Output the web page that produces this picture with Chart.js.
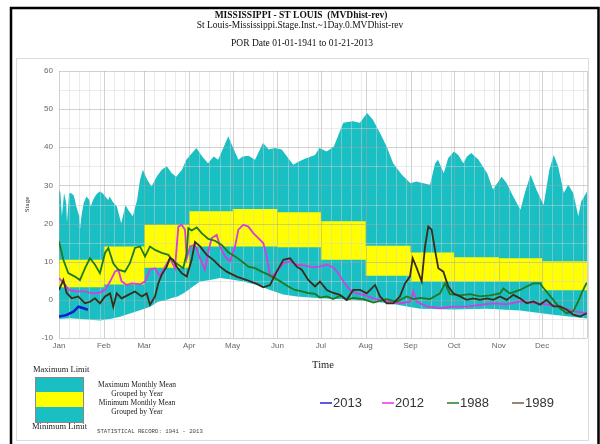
<!DOCTYPE html>
<html>
<head>
<meta charset="utf-8">
<script src="https://cdn.jsdelivr.net/npm/chart.js@4/dist/chart.umd.min.js"></script>
<style>
html,body{margin:0;padding:0;background:#fff;}
#c{display:block;}
</style>
</head>
<body>
<canvas id="c" width="600" height="444"></canvas>
<script>
// ---------- text ----------
const titleMain = 'MISSISSIPPI - ST LOUIS  (MVDhist-rev)';
const titleSub = 'St Louis-Mississippi.Stage.Inst.~1Day.0.MVDhist-rev';
const titlePor = 'POR Date 01-01-1941 to 01-21-2013';
const xAxisTitle = 'Time';
const yAxisTitle = 'Stage';
const statRecord = 'STATISTICAL RECORD: 1941 - 2013';

// ---------- categories / ticks ----------
const monthNames = ['Jan','Feb','Mar','Apr','May','Jun','Jul','Aug','Sep','Oct','Nov','Dec'];
const monthStartDays = [0,31,59,90,120,151,181,212,243,273,304,334];
const yearEndDay = 365;
const weekOffsets = [7,14,21,28];
const yMin = -10, yMax = 60, yStep = 5, yLabelEvery = 10;

// ---------- monthly mean band (yellow) ----------
const maxMonthlyMean = [10.5,14.0,19.7,23.2,23.8,23.0,20.6,14.2,12.4,11.2,10.9,10.1];
const minMonthlyMean = [3.3,4.0,8.4,14.0,14.0,13.8,10.5,6.3,4.8,4.8,4.8,2.5];

// ---------- limits band (teal) ----------
const maxLimitDays = [0,1,2,3.5,5,5.5,7,8,10,11,12,14,14.5,15.5,17,19,21,22,23.5,25.5,28,30,32,34,35,37,40,43,46,48,51,54,56,58,61,64,67.5,71,74.5,78,81,85,88,92,95,99,103,107,110,114,117,120,124,127,131,135.5,141,145,149,154,158.5,162,165.5,170,177,180,185,190,196.5,203,208,213,217,222,226.5,231,237,243,247,252,256.5,260,262,266,269,273,276,279.5,282,285,290,296,300,306,309.5,314,319,322,326,330,335,339,342,345,349,352,355.5,359,361,365];
const maxLimitStage = [28.9,28,21.9,28,25.3,20.2,28,28,27.5,26.2,24.5,21.9,18.4,21.9,25.3,27.1,26.2,24.5,26.2,27.5,28.4,28,27.1,26.2,27.1,25.8,24.5,20.1,24.8,23.5,21.9,26.2,31.5,34.1,31.5,29.7,32.3,34.1,35,33.2,32.3,34.1,36.7,38.5,39.8,37.6,35.8,37.6,36.7,40.2,42.9,40.2,36.7,37.6,37.8,36.7,41.1,39.4,39.8,39.4,37.1,35.4,36.2,37,38,39.8,38.9,40.2,46.4,46.8,46.4,49,47.2,43.7,40.2,35.8,32.8,30.6,31,30.6,30.2,35.8,36.7,33.2,37.1,38.9,38,35.8,37.6,38.5,36.7,33.2,28.9,32.3,30.6,27.1,23.6,28,32.8,28.9,24.9,34.1,38,35,28,30.2,28,21.9,25.8,28.4];
const minLimitDays = [0,7.6,14.5,21.4,28.3,35.3,42.2,49,56,63,68.4,73,78,82,87,92.6,97.5,104.4,111.3,120.3,127.2,136.9,145.9,154.9,164.4,180.4,203,226.7,249.6,272.4,296,318.7,341.5,365];
const minLimitStage = [-5,-4.8,-5,-5.2,-5.4,-5,-4.4,-3.6,-2.7,-1.8,-0.5,-0.2,0.5,0.9,1.9,3.5,4.8,5.2,5.7,5.3,4.8,3.9,2.6,1.4,0.9,0.4,0,-0.8,-2.3,-2.5,-2.3,-2.8,-3.9,-4.9];

// ---------- yearly series ----------
const seriesNames = ['2013','2012','1988','1989'];
const days2013 = [0,5,10,13.5,17,20];
const stage2013 = [-4.4,-4,-3.1,-1.8,-2.2,-2.6];
const days2012 = [0,3.5,7,11,18,22.6,27.2,31.8,35.3,38.7,41,43.3,46.8,50.3,56,59.5,62.9,66.4,69.8,73.3,76.7,80.2,82.5,84.8,87.1,88.3,90.6,94,97.5,100.9,103.2,105.6,109,111.3,114.8,118.2,121.7,124,127.4,130.9,134.3,137.8,141.2,143.6,145.9,148.2,151.6,155.1,159.7,164.3,170.1,175.6,180.4,185.1,189.6,193.1,196.5,201.2,205.8,210.4,217.3,226.5,235.7,242.6,244.9,247.3,254.2,263.4,272.6,281.8,291,300.2,309.5,318.7,327.9,337.1,346.3,355.5,364.8];
const stage2012 = [5.7,4.3,2.6,2.2,2.2,1.7,1.8,2.6,4.8,7.4,7.9,4.8,3.9,4.3,4.1,4.8,7.9,8.3,6.1,8.7,10.9,8.3,19.2,19.7,18.4,10.9,14,14.4,10.9,7.9,12.7,16.2,17,14,11.4,10.1,14,18.4,19.7,19.2,17.5,16.2,14.9,11.4,6.1,6.5,7.9,9.6,10.1,9.2,9,8.5,8.7,9.2,8.5,7,4.8,2.6,1.7,1.3,0.4,-0.4,-0.9,-0.5,2.2,-0.5,-1.7,-2.2,-1.8,-1.8,-1.3,-0.9,-1.2,-0.4,-0.8,-1.2,-1.7,-3,-3.5];
const days1988 = [0,3,6.4,11,14.5,18,21.4,24.9,28.3,31.8,34.1,37.5,41,45.6,49,52.5,56,59.5,62.9,66.4,71,75.6,79,82.5,85.9,88.3,89.4,91.7,95.2,98.6,103.2,107.8,112.5,117,121.7,126.3,130.9,135.5,140.1,144.7,149.3,154,158.5,163.1,167.8,172.3,177,180.4,185.1,189.6,194.3,198.9,203.4,210.4,217.3,226.5,233.5,240.4,244.9,249.6,256.5,263.4,266.8,270.3,277.2,284.1,291,298,304.9,307.2,311.8,318.7,323.3,327.9,332.5,336,341.7,346.3,351,355.5,358.8,361.6,364.8];
const stage1988 = [15.3,10.5,7,6.1,5.2,8.3,10.9,9.2,7,12.3,13.6,9.6,7.9,7.4,9.6,13.6,14,11.4,14,13.1,12.3,11.8,10.1,9.2,8.3,12.3,18.8,18.2,19,17.5,16,15.5,14.4,12.5,11.4,10.1,8.7,8.3,7.4,6.6,5.7,4.6,3.5,2.6,2.2,1.8,1.6,0.6,0.9,0.2,1.1,0,0.5,0.2,-0.7,0.2,-0.5,0.9,0.2,0.5,0.2,1.7,4.3,1.5,1.2,1.5,0.9,1.2,1.7,3,1.7,2.6,3.5,4.3,4.3,2.6,0,-2.2,-3.5,-3,-0.5,2,4.5];
const days1989 = [0,3,5.3,8.8,13.3,18,21.4,24.9,28.3,31.8,35.3,37.5,39.9,43.3,47.9,52.5,57.2,60.6,62.9,66.4,68.6,71,74.5,76.7,79,81.4,84.8,88.3,91.7,94,97.5,102.1,106.7,111.3,115.9,122.8,129.8,136.7,141.2,145.9,150.5,155.1,159.7,164.3,167.8,172.3,177,180.4,185.1,189.6,194.3,198.9,203.4,208.1,212.7,218.5,221.9,226.5,231.1,235.7,239.2,242.6,244.5,247.3,250.7,253,255.3,257.6,259.9,262.2,265.7,269.1,272.6,277.2,281.8,286.4,291,295.7,300.2,304.9,309.5,314.1,318.7,323.3,327.9,332.5,337.1,341.7,346.3,351,355.5,360.2,364.8];
const stage1989 = [2.6,5.2,1.8,0.4,0.9,-0.9,-0.5,0.4,-0.9,0.9,1.7,-1.8,1.7,0.4,1.3,2.2,0.9,1.7,-1.3,0.9,4.3,6.6,8.7,11,10.5,8.7,7,6.1,10.5,15.2,14,11.8,10.5,8.7,7.4,6.1,5.2,4.2,3.3,3.9,7.4,10.5,10.9,8.7,7.9,5.2,3.5,4.8,2.6,1.8,1.3,0,2.6,2.6,1.7,3.9,0.9,-0.9,-0.9,0.9,4.3,6.1,10.9,8.3,4.8,13.9,19.2,18.4,13.1,8.3,7.4,3.5,1.7,0.9,0,0.4,0,0.4,0,0.9,0,1.3,0.4,-0.9,-0.4,-1.3,0,-1.7,-1.7,-2.6,-3.9,-4.4,-3.5];

// ---------- styles ----------
const TEAL = '#19bfc3';
const YELLOW = '#ffff00';
const lineColors = ['#0b1ccc','#d23ee0','#1e7a1e','#3a2c18'];
const legendColors = ['#5a5ae6','#ee66ee','#55a055','#9c8470'];

const xy = (d, v) => d.map((x, i) => ({x: x, y: v[i]}));
const stepXY = (vals) => monthStartDays.map((d, i) => ({x: d, y: vals[i]})).concat([{x: yearEndDay, y: vals[vals.length - 1]}]);

const isMajorX = v => monthStartDays.includes(v) || v === yearEndDay;

const gridOverlay = {
  id: 'gridOverlay',
  beforeDatasetsDraw(chart) {
    const {ctx, chartArea: a, scales: {x, y}} = chart;
    ctx.save();
    ctx.lineWidth = 1;
    const major = 'rgba(165,165,165,0.5)', minor = 'rgba(210,210,210,0.45)';
    x.ticks.forEach(t => {
      const p = Math.round(x.getPixelForValue(t.value)) + 0.5;
      ctx.strokeStyle = isMajorX(t.value) ? major : minor;
      ctx.beginPath(); ctx.moveTo(p, a.top); ctx.lineTo(p, a.bottom); ctx.stroke();
    });
    y.ticks.forEach(t => {
      const p = Math.round(y.getPixelForValue(t.value)) + 0.5;
      ctx.strokeStyle = (t.value % yLabelEvery === 0) ? major : minor;
      ctx.beginPath(); ctx.moveTo(a.left, p); ctx.lineTo(a.right, p); ctx.stroke();
    });
    ctx.restore();
  }
};

const decor = {
  id: 'decor',
  afterDraw(chart) {
    const ctx = chart.ctx;
    ctx.save();
    // panel
    ctx.strokeStyle = '#dcdcdc'; ctx.lineWidth = 1;
    ctx.strokeRect(16.5, 58.5, 572, 382);
    // outer border
    ctx.strokeStyle = '#000'; ctx.lineWidth = 2.5;
    ctx.beginPath(); ctx.moveTo(11, 444); ctx.lineTo(11, 8); ctx.lineTo(598.5, 8); ctx.lineTo(598.5, 444); ctx.stroke();
    // titles
    ctx.fillStyle = '#111'; ctx.textAlign = 'center'; ctx.textBaseline = 'middle';
    ctx.font = 'bold 9.5px "Liberation Serif"'; ctx.fillText(titleMain, 301, 16);
    ctx.font = '9.5px "Liberation Serif"'; ctx.fillText(titleSub, 300, 25.5);
    ctx.fillText(titlePor, 302, 43);
    // left legend box
    ctx.textAlign = 'left'; ctx.fillStyle = '#222';
    ctx.font = '8.5px "Liberation Serif"';
    ctx.fillText('Maximum Limit', 33, 370);
    ctx.fillText('Minimum Limit', 32, 427);
    ctx.fillStyle = TEAL; ctx.fillRect(35, 377, 48, 15);
    ctx.fillStyle = YELLOW; ctx.fillRect(35, 392, 48, 15);
    ctx.fillStyle = TEAL; ctx.fillRect(35, 407, 48, 15);
    ctx.strokeStyle = '#888'; ctx.lineWidth = 1; ctx.strokeRect(35.5, 377.5, 48, 45);
    ctx.fillStyle = '#222'; ctx.textAlign = 'center'; ctx.font = '7.5px "Liberation Serif"';
    ctx.fillText('Maximum Monthly Mean', 137, 385);
    ctx.fillText('Grouped by Year', 137, 394);
    ctx.fillText('Minimum Monthly Mean', 137, 403);
    ctx.fillText('Grouped by Year', 137, 412);
    ctx.textAlign = 'left'; ctx.font = '5.7px "Liberation Mono"'; ctx.fillStyle = '#444';
    ctx.fillText(statRecord, 97, 431);
    // series legend
    const lx = [320, 382, 447, 512];
    ctx.font = '13px "Liberation Sans"';
    seriesNames.forEach((n, i) => {
      ctx.strokeStyle = legendColors[i]; ctx.lineWidth = 2;
      ctx.beginPath(); ctx.moveTo(lx[i], 403); ctx.lineTo(lx[i] + 12, 403); ctx.stroke();
      ctx.fillStyle = '#333'; ctx.fillText(n, lx[i] + 13, 403.5);
    });
    ctx.restore();
  }
};

const lineDs = (label, data, color, order, width) => ({
  label, data, borderColor: color, borderWidth: width, pointRadius: 0, tension: 0, fill: false, order
});

new Chart(document.getElementById('c'), {
  type: 'line',
  data: {
    datasets: [
      lineDs(seriesNames[0], xy(days2013, stage2013), lineColors[0], 1, 2.5),
      lineDs(seriesNames[1], xy(days2012, stage2012), lineColors[1], 4, 1.8),
      lineDs(seriesNames[2], xy(days1988, stage1988), lineColors[2], 3, 1.8),
      lineDs(seriesNames[3], xy(days1989, stage1989), lineColors[3], 2, 1.8),
      {label: 'maxMean', data: stepXY(maxMonthlyMean), stepped: true, borderWidth: 0, borderColor: 'rgba(0,0,0,0)', pointRadius: 0, backgroundColor: YELLOW, fill: 5, order: 10},
      {label: 'minMean', data: stepXY(minMonthlyMean), stepped: true, borderWidth: 0, borderColor: 'rgba(0,0,0,0)', pointRadius: 0, fill: false, order: 11},
      {label: 'maxLimit', data: xy(maxLimitDays, maxLimitStage), borderWidth: 0, borderColor: 'rgba(0,0,0,0)', pointRadius: 0, backgroundColor: TEAL, fill: 7, order: 20},
      {label: 'minLimit', data: xy(minLimitDays, minLimitStage), borderWidth: 0, borderColor: 'rgba(0,0,0,0)', pointRadius: 0, fill: false, order: 21}
    ]
  },
  options: {
    responsive: false,
    devicePixelRatio: 1,
    animation: false,
    layout: {padding: {left: 22, right: 13, top: 71, bottom: 72}},
    plugins: {
      legend: {display: false},
      tooltip: {enabled: false},
      filler: {drawTime: 'beforeDatasetsDraw'}
    },
    scales: {
      x: {
        type: 'linear', min: 0, max: yearEndDay,
        grid: {display: false, drawTicks: false},
        border: {display: false},
        afterBuildTicks: (s) => {
          const vals = [];
          monthStartDays.forEach((m, i) => {
            vals.push(m);
            const next = i < monthStartDays.length - 1 ? monthStartDays[i + 1] : yearEndDay;
            weekOffsets.forEach(w => { if (m + w < next) vals.push(m + w); });
          });
          vals.push(yearEndDay);
          s.ticks = vals.map(v => ({value: v}));
        },
        afterFit: (s) => { s.height = 34; },
        ticks: {
          autoSkip: false, maxRotation: 0, padding: 3, color: '#666',
          font: {family: '"Liberation Sans"', size: 8},
          callback: (v) => { const i = monthStartDays.indexOf(v); return i >= 0 ? monthNames[i] : ''; }
        },
        title: {display: true, text: xAxisTitle, color: '#222', font: {family: '"Liberation Serif"', size: 10.5}, padding: {top: 0, bottom: 0}}
      },
      y: {
        type: 'linear', min: yMin, max: yMax,
        grid: {display: false, drawTicks: false},
        border: {display: false},
        afterFit: (s) => { s.width = 37; },
        ticks: {
          stepSize: yStep, padding: 6, color: '#666',
          font: {family: '"Liberation Sans"', size: 8},
          callback: (v) => (v % yLabelEvery === 0 ? String(v) : '')
        },
        title: {display: true, text: yAxisTitle, color: '#333', font: {family: '"Liberation Serif"', size: 7}, padding: {top: 1, bottom: 0}}
      }
    }
  },
  plugins: [gridOverlay, decor]
});
</script>
</body>
</html>
